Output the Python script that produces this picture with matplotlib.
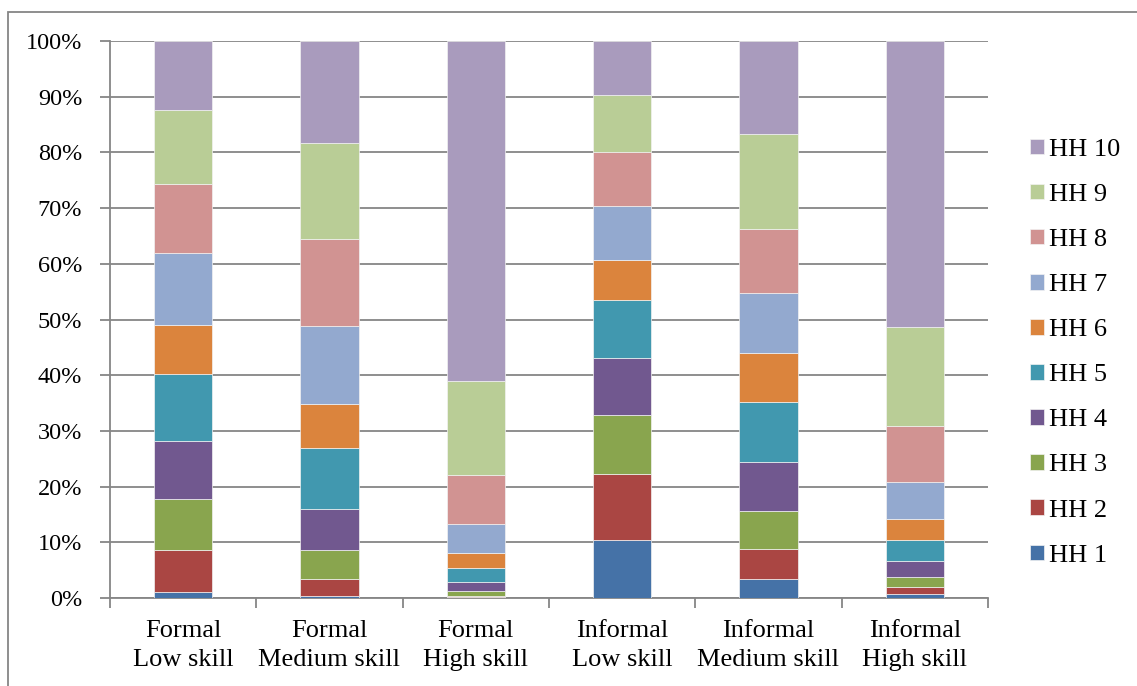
import matplotlib
matplotlib.use("Agg")
import matplotlib.pyplot as plt
from matplotlib.patches import Rectangle
from matplotlib.ticker import FixedLocator, PercentFormatter
import numpy as np

plt.rcParams['font.family'] = ['Liberation Serif', 'DejaVu Serif']

categories = ['Formal\nLow skill', 'Formal\nMedium skill', 'Formal\nHigh skill',
              'Informal\nLow skill', 'Informal\nMedium skill', 'Informal\nHigh skill']

# share of each household decile (%) per sector / skill group
hh1 = [1.1, 0.3, 0.1, 10.4, 3.5, 0.7]
hh2 = [7.6, 3.2, 0.3, 11.9, 5.3, 1.2]
hh3 = [9.1, 5.1, 0.9, 10.5, 6.9, 1.9]
hh4 = [10.4, 7.4, 1.5, 10.2, 8.7, 2.9]
hh5 = [12.1, 11.0, 2.6, 10.5, 10.8, 3.7]
hh6 = [8.7, 7.9, 2.6, 7.2, 8.7, 3.7]
hh7 = [12.9, 14.0, 5.3, 9.6, 10.8, 6.7]
hh8 = [12.5, 15.5, 8.7, 9.8, 11.6, 10.1]
hh9 = [13.2, 17.2, 17.0, 10.2, 17.0, 17.8]
hh10 = [12.4, 18.4, 61.0, 9.7, 16.7, 51.3]

series = [hh1, hh2, hh3, hh4, hh5, hh6, hh7, hh8, hh9, hh10]
labels = ['HH %d' % (i + 1) for i in range(10)]
colors = ['#4572A7', '#AA4643', '#89A54E', '#71588F', '#4198AF',
          '#DB843D', '#93A9CF', '#D19392', '#B9CD96', '#A99BBD']

W, H = 1137, 686
fig = plt.figure(figsize=(W / 100, H / 100), dpi=100)
ax = fig.add_axes([110 / W, 1 - 598 / H, (988 - 110) / W, (598 - 41) / H])

# outer chart border
fig.patches.append(Rectangle((8 / W, -0.01), 1.5, 1 - 12 / H + 0.01,
                             transform=fig.transFigure, fill=False,
                             edgecolor='#868686', linewidth=1.3))

x = np.arange(len(categories))
bottom = np.zeros(len(categories))
bars = []
for vals, lab, col in zip(series, labels, colors):
    b = ax.bar(x, vals, width=0.4, bottom=bottom, color=col, label=lab,
               edgecolor='#f2f2f2', linewidth=0.5, zorder=3)
    bars.append(b)
    bottom += np.array(vals)

ax.set_xlim(-0.5, len(categories) - 0.5)
ax.set_ylim(0, 100)
ax.set_yticks(np.arange(0, 101, 10))
ax.yaxis.set_major_formatter(PercentFormatter(decimals=0))
ax.yaxis.grid(True, color='#868686', linewidth=1.3, zorder=0)

ax.xaxis.set_major_locator(FixedLocator(np.arange(-0.5, len(categories), 1)))
ax.xaxis.set_minor_locator(FixedLocator(x))
ax.set_xticklabels([])
ax.set_xticklabels(categories, minor=True, linespacing=1.4)
ax.tick_params(axis='x', which='major', length=7, width=1.3, color='#868686')
ax.tick_params(axis='x', which='minor', length=0, pad=16, labelsize=19)
ax.tick_params(axis='y', length=7, width=1.3, color='#868686', pad=13, labelsize=17.5)

for s in ['top', 'right']:
    ax.spines[s].set_visible(False)
for s in ['left', 'bottom']:
    ax.spines[s].set_color('#868686')
    ax.spines[s].set_linewidth(1.3)

handles = [b[0] for b in bars][::-1]
fig.legend(handles, labels[::-1], loc='upper left',
           bbox_to_anchor=(1006 / W, 1 - 115 / H), frameon=False,
           fontsize=19, handlelength=0.53, handleheight=0.53,
           handletextpad=0.2, labelspacing=0.87)

fig.savefig('out.png', dpi=100)
